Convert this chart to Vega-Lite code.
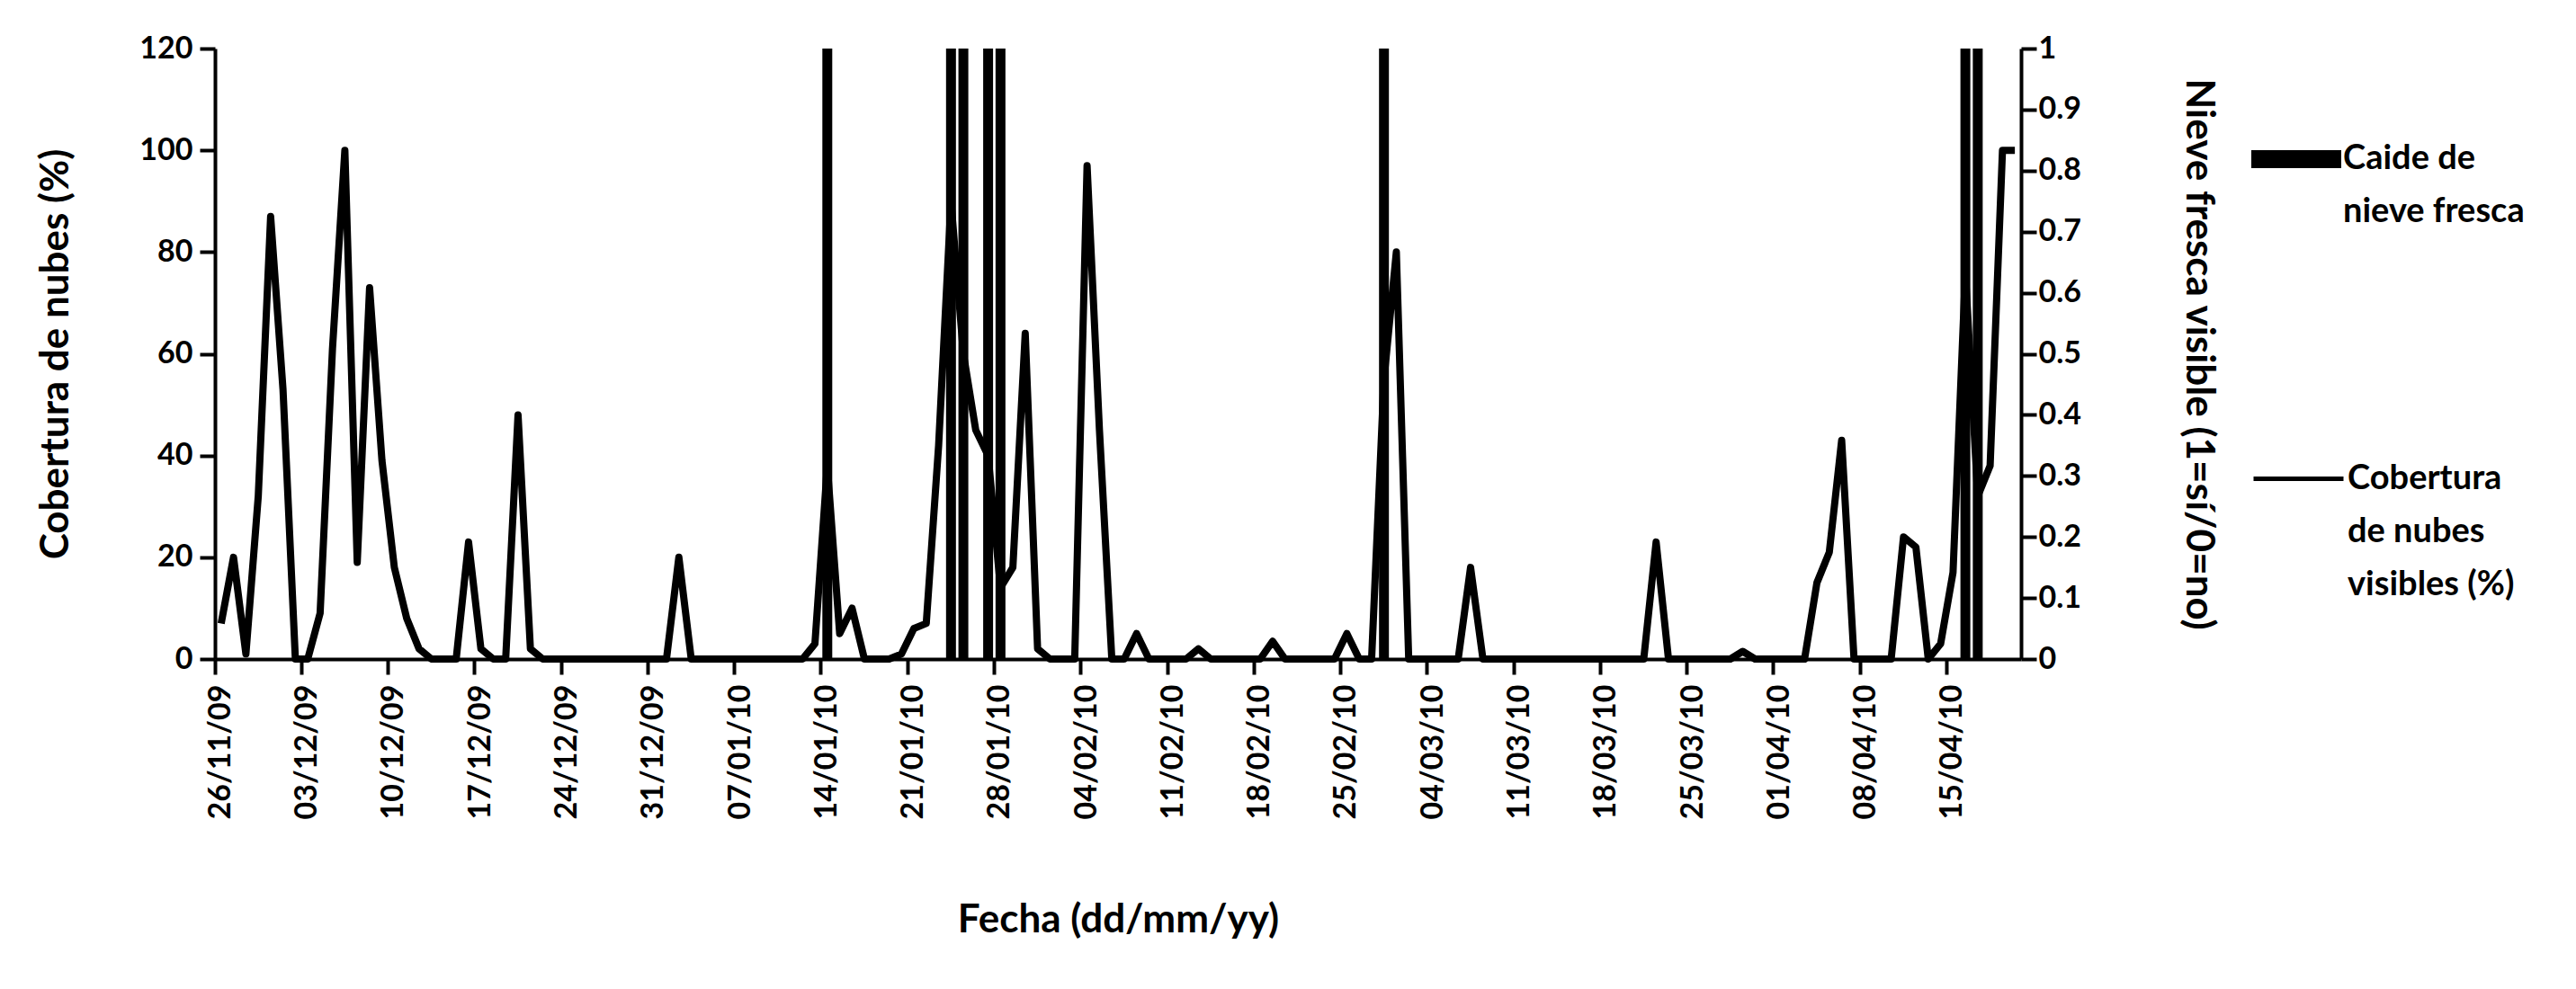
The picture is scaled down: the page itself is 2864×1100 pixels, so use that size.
{
  "$schema": "https://vega.github.io/schema/vega-lite/v6.json",
  "width": 2008,
  "height": 679,
  "autosize": {"type": "none"},
  "padding": {"left": 239, "top": 54, "right": 617, "bottom": 367},
  "background": "white",
  "config": {
    "font": "Lato",
    "view": {"stroke": null},
    "axis": {
      "domainColor": "black", "domainWidth": 4, "tickColor": "black", "tickWidth": 4, "tickSize": 17,
      "labelColor": "black", "labelFont": "Lato", "labelFontWeight": "bold", "labelFontSize": 34, "labelLimit": 0,
      "titleColor": "black", "titleFont": "Lato", "titleFontWeight": "bold", "titleFontSize": 44, "grid": false
    },
    "style": {"guide-label": {"lineHeight": 59}}
  },
  "data": {"values": [
    {"fecha":"26/11/09","nubes":7,"nieve":0},{"fecha":"27/11/09","nubes":20,"nieve":0},{"fecha":"28/11/09","nubes":1,"nieve":0},{"fecha":"29/11/09","nubes":32,"nieve":0},{"fecha":"30/11/09","nubes":87,"nieve":0},
    {"fecha":"01/12/09","nubes":53,"nieve":0},{"fecha":"02/12/09","nubes":0,"nieve":0},{"fecha":"03/12/09","nubes":0,"nieve":0},{"fecha":"04/12/09","nubes":9,"nieve":0},{"fecha":"05/12/09","nubes":61,"nieve":0},
    {"fecha":"06/12/09","nubes":100,"nieve":0},{"fecha":"07/12/09","nubes":19,"nieve":0},{"fecha":"08/12/09","nubes":73,"nieve":0},{"fecha":"09/12/09","nubes":39,"nieve":0},{"fecha":"10/12/09","nubes":18,"nieve":0},
    {"fecha":"11/12/09","nubes":8,"nieve":0},{"fecha":"12/12/09","nubes":2,"nieve":0},{"fecha":"13/12/09","nubes":0,"nieve":0},{"fecha":"14/12/09","nubes":0,"nieve":0},{"fecha":"15/12/09","nubes":0,"nieve":0},
    {"fecha":"16/12/09","nubes":23,"nieve":0},{"fecha":"17/12/09","nubes":2,"nieve":0},{"fecha":"18/12/09","nubes":0,"nieve":0},{"fecha":"19/12/09","nubes":0,"nieve":0},{"fecha":"20/12/09","nubes":48,"nieve":0},
    {"fecha":"21/12/09","nubes":2,"nieve":0},{"fecha":"22/12/09","nubes":0,"nieve":0},{"fecha":"23/12/09","nubes":0,"nieve":0},{"fecha":"24/12/09","nubes":0,"nieve":0},{"fecha":"25/12/09","nubes":0,"nieve":0},
    {"fecha":"26/12/09","nubes":0,"nieve":0},{"fecha":"27/12/09","nubes":0,"nieve":0},{"fecha":"28/12/09","nubes":0,"nieve":0},{"fecha":"29/12/09","nubes":0,"nieve":0},{"fecha":"30/12/09","nubes":0,"nieve":0},
    {"fecha":"31/12/09","nubes":0,"nieve":0},{"fecha":"01/01/10","nubes":0,"nieve":0},{"fecha":"02/01/10","nubes":20,"nieve":0},{"fecha":"03/01/10","nubes":0,"nieve":0},{"fecha":"04/01/10","nubes":0,"nieve":0},
    {"fecha":"05/01/10","nubes":0,"nieve":0},{"fecha":"06/01/10","nubes":0,"nieve":0},{"fecha":"07/01/10","nubes":0,"nieve":0},{"fecha":"08/01/10","nubes":0,"nieve":0},{"fecha":"09/01/10","nubes":0,"nieve":0},
    {"fecha":"10/01/10","nubes":0,"nieve":0},{"fecha":"11/01/10","nubes":0,"nieve":0},{"fecha":"12/01/10","nubes":0,"nieve":0},{"fecha":"13/01/10","nubes":3,"nieve":0},{"fecha":"14/01/10","nubes":38,"nieve":1},
    {"fecha":"15/01/10","nubes":5,"nieve":0},{"fecha":"16/01/10","nubes":10,"nieve":0},{"fecha":"17/01/10","nubes":0,"nieve":0},{"fecha":"18/01/10","nubes":0,"nieve":0},{"fecha":"19/01/10","nubes":0,"nieve":0},
    {"fecha":"20/01/10","nubes":1,"nieve":0},{"fecha":"21/01/10","nubes":6,"nieve":0},{"fecha":"22/01/10","nubes":7,"nieve":0},{"fecha":"23/01/10","nubes":42,"nieve":0},{"fecha":"24/01/10","nubes":90,"nieve":1},
    {"fecha":"25/01/10","nubes":60,"nieve":1},{"fecha":"26/01/10","nubes":45,"nieve":0},{"fecha":"27/01/10","nubes":40,"nieve":1},{"fecha":"28/01/10","nubes":14,"nieve":1},{"fecha":"29/01/10","nubes":18,"nieve":0},
    {"fecha":"30/01/10","nubes":64,"nieve":0},{"fecha":"31/01/10","nubes":2,"nieve":0},{"fecha":"01/02/10","nubes":0,"nieve":0},{"fecha":"02/02/10","nubes":0,"nieve":0},{"fecha":"03/02/10","nubes":0,"nieve":0},
    {"fecha":"04/02/10","nubes":97,"nieve":0},{"fecha":"05/02/10","nubes":45,"nieve":0},{"fecha":"06/02/10","nubes":0,"nieve":0},{"fecha":"07/02/10","nubes":0,"nieve":0},{"fecha":"08/02/10","nubes":5,"nieve":0},
    {"fecha":"09/02/10","nubes":0,"nieve":0},{"fecha":"10/02/10","nubes":0,"nieve":0},{"fecha":"11/02/10","nubes":0,"nieve":0},{"fecha":"12/02/10","nubes":0,"nieve":0},{"fecha":"13/02/10","nubes":2,"nieve":0},
    {"fecha":"14/02/10","nubes":0,"nieve":0},{"fecha":"15/02/10","nubes":0,"nieve":0},{"fecha":"16/02/10","nubes":0,"nieve":0},{"fecha":"17/02/10","nubes":0,"nieve":0},{"fecha":"18/02/10","nubes":0,"nieve":0},
    {"fecha":"19/02/10","nubes":3.5,"nieve":0},{"fecha":"20/02/10","nubes":0,"nieve":0},{"fecha":"21/02/10","nubes":0,"nieve":0},{"fecha":"22/02/10","nubes":0,"nieve":0},{"fecha":"23/02/10","nubes":0,"nieve":0},
    {"fecha":"24/02/10","nubes":0,"nieve":0},{"fecha":"25/02/10","nubes":5,"nieve":0},{"fecha":"26/02/10","nubes":0,"nieve":0},{"fecha":"27/02/10","nubes":0,"nieve":0},{"fecha":"28/02/10","nubes":55,"nieve":1},
    {"fecha":"01/03/10","nubes":80,"nieve":0},{"fecha":"02/03/10","nubes":0,"nieve":0},{"fecha":"03/03/10","nubes":0,"nieve":0},{"fecha":"04/03/10","nubes":0,"nieve":0},{"fecha":"05/03/10","nubes":0,"nieve":0},
    {"fecha":"06/03/10","nubes":0,"nieve":0},{"fecha":"07/03/10","nubes":18,"nieve":0},{"fecha":"08/03/10","nubes":0,"nieve":0},{"fecha":"09/03/10","nubes":0,"nieve":0},{"fecha":"10/03/10","nubes":0,"nieve":0},
    {"fecha":"11/03/10","nubes":0,"nieve":0},{"fecha":"12/03/10","nubes":0,"nieve":0},{"fecha":"13/03/10","nubes":0,"nieve":0},{"fecha":"14/03/10","nubes":0,"nieve":0},{"fecha":"15/03/10","nubes":0,"nieve":0},
    {"fecha":"16/03/10","nubes":0,"nieve":0},{"fecha":"17/03/10","nubes":0,"nieve":0},{"fecha":"18/03/10","nubes":0,"nieve":0},{"fecha":"19/03/10","nubes":0,"nieve":0},{"fecha":"20/03/10","nubes":0,"nieve":0},
    {"fecha":"21/03/10","nubes":0,"nieve":0},{"fecha":"22/03/10","nubes":23,"nieve":0},{"fecha":"23/03/10","nubes":0,"nieve":0},{"fecha":"24/03/10","nubes":0,"nieve":0},{"fecha":"25/03/10","nubes":0,"nieve":0},
    {"fecha":"26/03/10","nubes":0,"nieve":0},{"fecha":"27/03/10","nubes":0,"nieve":0},{"fecha":"28/03/10","nubes":0,"nieve":0},{"fecha":"29/03/10","nubes":1.5,"nieve":0},{"fecha":"30/03/10","nubes":0,"nieve":0},
    {"fecha":"31/03/10","nubes":0,"nieve":0},{"fecha":"01/04/10","nubes":0,"nieve":0},{"fecha":"02/04/10","nubes":0,"nieve":0},{"fecha":"03/04/10","nubes":0,"nieve":0},{"fecha":"04/04/10","nubes":15,"nieve":0},
    {"fecha":"05/04/10","nubes":21,"nieve":0},{"fecha":"06/04/10","nubes":43,"nieve":0},{"fecha":"07/04/10","nubes":0,"nieve":0},{"fecha":"08/04/10","nubes":0,"nieve":0},{"fecha":"09/04/10","nubes":0,"nieve":0},
    {"fecha":"10/04/10","nubes":0,"nieve":0},{"fecha":"11/04/10","nubes":24,"nieve":0},{"fecha":"12/04/10","nubes":22,"nieve":0},{"fecha":"13/04/10","nubes":0,"nieve":0},{"fecha":"14/04/10","nubes":3,"nieve":0},
    {"fecha":"15/04/10","nubes":17,"nieve":0},{"fecha":"16/04/10","nubes":76,"nieve":1},{"fecha":"17/04/10","nubes":32,"nieve":1},{"fecha":"18/04/10","nubes":38,"nieve":0},{"fecha":"19/04/10","nubes":100,"nieve":0},
    {"fecha":"20/04/10","nubes":100,"nieve":0}
  ]},
  "layer": [
    {
      "mark": {"type": "bar", "width": {"band": 0.8}},
      "encoding": {
        "x": {"field": "fecha", "type": "ordinal", "sort": null,
          "scale": {"paddingInner": 0, "paddingOuter": 0},
          "axis": {"orient": "bottom", "title": "Fecha (dd/mm/yy)", "labelAngle": -90, "labelPadding": 28, "titlePadding": 90, "ticks": false,
            "values": ["26/11/09","03/12/09","10/12/09","17/12/09","24/12/09","31/12/09","07/01/10","14/01/10","21/01/10","28/01/10","04/02/10","11/02/10","18/02/10","25/02/10","04/03/10","11/03/10","18/03/10","25/03/10","01/04/10","08/04/10","15/04/10"]}},
        "y": {"field": "nieve", "type": "quantitative", "scale": {"domain": [0, 1]},
          "axis": {"orient": "right", "title": "Nieve fresca visible  (1=sí/0=no)", "values": [0,0.1,0.2,0.3,0.4,0.5,0.6,0.7,0.8,0.9,1], "format": "~g", "labelPadding": 2, "titlePadding": 108}},
        "fill": {"datum": "Caide de|nieve fresca", "scale": {"range": ["black"]},
          "legend": {"orient": "none", "legendX": 2264, "legendY": 73, "title": null, "padding": 0,
            "symbolType": "M-1,-0.2H1V0.2H-1Z", "symbolSize": 10000, "symbolStrokeWidth": 0,
            "labelFont": "Lato", "labelFontWeight": "bold", "labelFontSize": 38, "labelColor": "black",
            "labelOffset": 2, "labelBaseline": "middle", "labelLimit": 0, "labelExpr": "split(datum.label, '|')"}}
      }
    },
    {
      "mark": {"type": "line", "strokeWidth": 8, "strokeJoin": "round"},
      "encoding": {
        "x": {"field": "fecha", "type": "ordinal", "sort": null,
          "axis": {"orient": "bottom", "bandPosition": 0, "labels": false, "domain": false, "title": null,
            "values": ["26/11/09","03/12/09","10/12/09","17/12/09","24/12/09","31/12/09","07/01/10","14/01/10","21/01/10","28/01/10","04/02/10","11/02/10","18/02/10","25/02/10","04/03/10","11/03/10","18/03/10","25/03/10","01/04/10","08/04/10","15/04/10"]}},
        "y": {"field": "nubes", "type": "quantitative", "scale": {"domain": [0, 120]},
          "axis": {"orient": "left", "title": "Cobertura de nubes (%)", "values": [0,20,40,60,80,100,120], "labelPadding": 8, "titlePadding": 70}},
        "stroke": {"datum": "Cobertura|de nubes|visibles (%)", "scale": {"range": ["black"]},
          "legend": {"orient": "none", "legendX": 2264, "legendY": 426, "title": null, "padding": 0,
            "symbolType": "stroke", "symbolSize": 10000, "symbolStrokeWidth": 5, "symbolStrokeColor": "black",
            "labelFont": "Lato", "labelFontWeight": "bold", "labelFontSize": 38, "labelColor": "black",
            "labelOffset": 2, "labelBaseline": "middle", "labelLimit": 0, "labelExpr": "split(datum.label, '|')"}}
      }
    }
  ],
  "resolve": {"scale": {"y": "independent", "fill": "independent", "stroke": "independent"}, "axis": {"x": "independent"}}
}
